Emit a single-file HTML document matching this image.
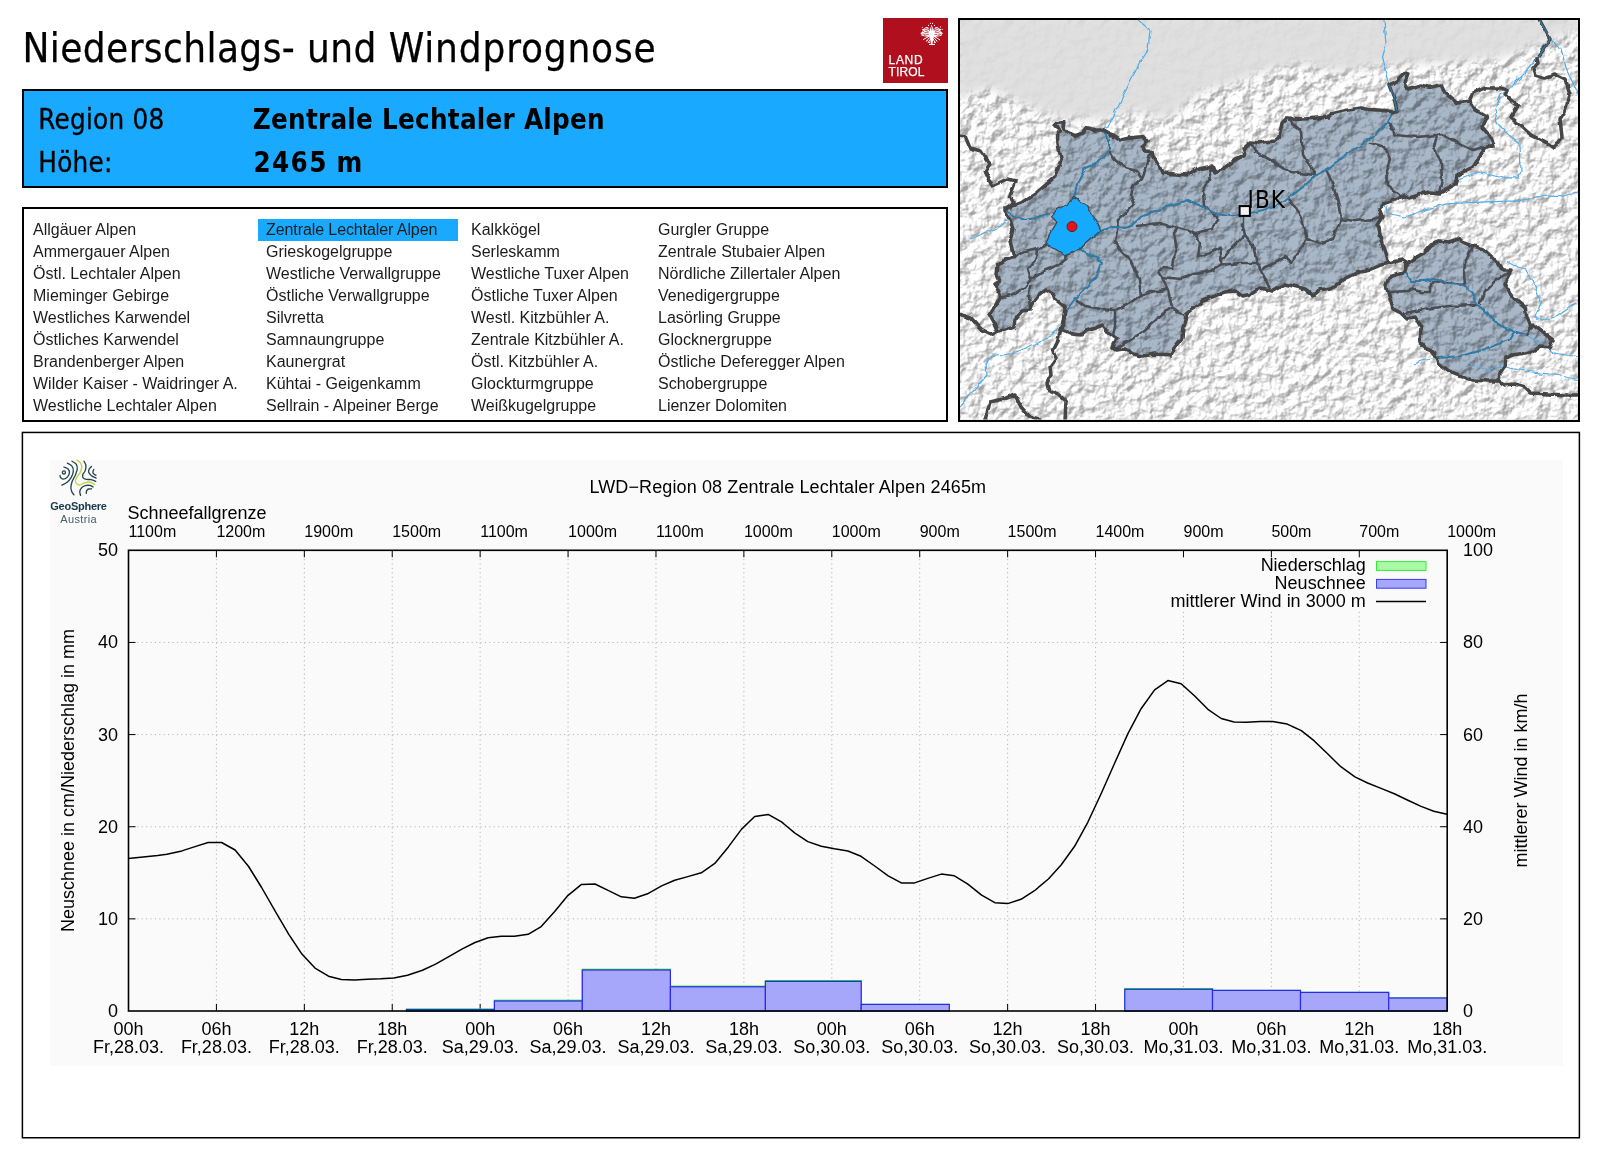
<!DOCTYPE html>
<html lang="de"><head><meta charset="utf-8"><title>Niederschlags- und Windprognose</title>
<style>
html,body{margin:0;padding:0;background:#fff}
body{width:1600px;height:1153px;position:relative;overflow:hidden;font-family:"Liberation Sans",sans-serif;color:#000}
#wrap{position:absolute;left:0;top:0;width:1600px;height:1153px;will-change:transform}
.title{position:absolute;left:22.5px;top:24px;font-family:"DejaVu Sans Condensed","Liberation Sans",sans-serif;font-size:40px;line-height:48px;letter-spacing:0.58px;white-space:nowrap;-webkit-text-stroke:0.25px #000}
.logo{position:absolute;left:883px;top:18px;width:65px;height:64.7px;background:#b0101e;color:#fff}
.logo span{position:absolute;left:5.6px;font-size:12px;line-height:12px;letter-spacing:0.3px;white-space:nowrap;-webkit-text-stroke:0.25px #fff}
.hdr{position:absolute;left:22px;top:89px;width:922px;height:95px;border:2px solid #000;background:#19aaff}
.hdr div{position:absolute;font-family:"DejaVu Sans Condensed","Liberation Sans",sans-serif;font-size:27.5px;line-height:34px;white-space:nowrap}
.hdr .b{font-weight:bold;letter-spacing:0.25px}
.hdr .n{letter-spacing:0.25px;-webkit-text-stroke:0.3px #000}
.listbox{position:absolute;left:22px;top:207px;width:922px;height:210.5px;border:2px solid #000;background:#fff}
.listbox .hl{position:absolute;left:233.6px;top:10.2px;width:200.4px;height:21.5px;background:#19aaff}
.col{position:absolute;top:10px;margin:0;padding:0;list-style:none;font-size:16px;line-height:22px;white-space:nowrap;color:#1c1c1c}
.col li{height:22px}
.map{position:absolute;left:958px;top:18px;width:618.3px;height:399.6px;border:2px solid #000;overflow:hidden;background:#e4e4e4}
.chartbox{position:absolute;left:21.7px;top:431.7px;width:1558.5px;height:706.8px;background:#fff}
</style></head><body>
<div id="wrap">
<div class="title"><span style="letter-spacing:0.42px">Niederschlags- und </span><span style="letter-spacing:0.85px">Windprognose</span></div>
<div class="logo"><svg width="35" height="32" viewBox="0 0 35 32" style="position:absolute;left:32px;top:0">
<g fill="#fff" stroke="none">
<path d="M16.3 13.2 L13.2 9.3 L10.8 8.9 L9.4 10.4 L7.0 11.2 L7.8 13.0 L5.9 15.2 L7.0 17.4 L9.2 18.2 L12.2 19.2 L15.4 18.6 Z"/>
<path d="M17.1 13.2 L20.2 9.3 L22.6 8.9 L24.0 10.4 L26.4 11.2 L25.6 13.0 L27.5 15.2 L26.4 17.4 L24.2 18.2 L21.2 19.2 L18.0 18.6 Z"/>
<path d="M16.6 6.8 L18.6 11.5 L19.3 15.0 L18.5 20.0 L17.4 26.0 L16.0 26.0 L15.0 20.0 L14.2 15.0 L14.9 11.5 Z"/>
<rect x="14" y="25.9" width="6" height="1.1"/>
<circle cx="15.4" cy="5.4" r="0.55"/>
<circle cx="17.5" cy="5.4" r="0.55"/>
<circle cx="13.5" cy="7.4" r="0.55"/>
<circle cx="19.5" cy="7.4" r="0.55"/>
<circle cx="12.0" cy="22.6" r="0.55"/>
<circle cx="14.4" cy="24.4" r="0.55"/>
<circle cx="19.4" cy="24.4" r="0.55"/>
<circle cx="21.6" cy="22.6" r="0.55"/>
<circle cx="7.3" cy="9.3" r="0.55"/>
<circle cx="27.3" cy="11.3" r="0.55"/>
<circle cx="25.6" cy="8.9" r="0.55"/>
</g>
<g stroke="#fff" stroke-width="1" fill="none" stroke-linecap="round">
<path d="M13.4 18.6 L8.4 21.5 M19.8 18.6 L24.7 21.8 M14.6 19.5 L11.5 23.2 M18.8 19.5 L22 23.2 M15.6 21 L13.2 24.6 M18 21 L20.4 24.6 M6 15.3 H9 M24.3 15.3 H27.2 M6.9 17.2 H9.5 M24 17.2 H26"/>
</g>
<g stroke="#b0101e" stroke-width="0.7" fill="none" stroke-linecap="round">
<path d="M9.8 12 L13 13.2 M10 14.4 L13.2 14.2 M11.6 16.4 H13.6 M23.6 12 L20.4 13.2 M23.4 14.4 L20.2 14.2 M21.8 16.4 H19.8 M11.5 10.6 L13.6 11.6 M22 10.6 L19.8 11.6 M16.7 9 V12 M8 12.6 L9 14 M7.6 16.2 H10.4 M25.6 12.6 L24.6 14 M26 16.2 H23.2 M9.4 17.6 L12 18.4 M24.2 17.6 L21.6 18.4 M13.8 10 L14.6 12.4 M19.8 10 L19 12.4 M10.4 10 L11 11 M23 10 L22.4 11"/>
</g></svg><span style="top:36.2px;letter-spacing:0.65px">LAND</span><span style="top:47.8px;letter-spacing:0.1px">TIROL</span></div>
<div class="hdr"><div class="n" style="left:14.3px;top:11px">Region 08</div><div class="n" style="left:14.3px;top:53.7px">Höhe:</div><div class="b" style="left:228.8px;top:11px">Zentrale Lechtaler Alpen</div><div class="b" style="left:229.6px;top:53.7px"><span style="letter-spacing:1.3px">2465</span> m</div></div>
<div class="listbox">
<div class="hl"></div>
<ul class="col" style="left:9px">
<li>Allgäuer Alpen</li>
<li>Ammergauer Alpen</li>
<li>Östl. Lechtaler Alpen</li>
<li>Mieminger Gebirge</li>
<li>Westliches Karwendel</li>
<li>Östliches Karwendel</li>
<li>Brandenberger Alpen</li>
<li>Wilder Kaiser - Waidringer A.</li>
<li>Westliche Lechtaler Alpen</li>
</ul>
<ul class="col" style="left:242px">
<li style="letter-spacing:-0.09px">Zentrale Lechtaler Alpen</li>
<li>Grieskogelgruppe</li>
<li>Westliche Verwallgruppe</li>
<li>Östliche Verwallgruppe</li>
<li>Silvretta</li>
<li>Samnaungruppe</li>
<li>Kaunergrat</li>
<li>Kühtai - Geigenkamm</li>
<li>Sellrain - Alpeiner Berge</li>
</ul>
<ul class="col" style="left:447px">
<li>Kalkkögel</li>
<li>Serleskamm</li>
<li>Westliche Tuxer Alpen</li>
<li>Östliche Tuxer Alpen</li>
<li>Westl. Kitzbühler A.</li>
<li>Zentrale Kitzbühler A.</li>
<li>Östl. Kitzbühler A.</li>
<li>Glockturmgruppe</li>
<li>Weißkugelgruppe</li>
</ul>
<ul class="col" style="left:634px">
<li>Gurgler Gruppe</li>
<li>Zentrale Stubaier Alpen</li>
<li>Nördliche Zillertaler Alpen</li>
<li>Venedigergruppe</li>
<li>Lasörling Gruppe</li>
<li>Glocknergruppe</li>
<li>Östliche Deferegger Alpen</li>
<li>Schobergruppe</li>
<li>Lienzer Dolomiten</li>
</ul>
</div>
<div class="map"><svg width="618.5" height="399.6" viewBox="960 20 618.5 399.6" style="display:block">
<defs>
<filter id="relief" x="0" y="0" width="100%" height="100%" color-interpolation-filters="sRGB">
<feTurbulence type="fractalNoise" baseFrequency="0.085 0.09" numOctaves="5" seed="7" result="n"/>
<feDiffuseLighting in="n" surfaceScale="5.5" diffuseConstant="1" lighting-color="#ffffff" result="l"><feDistantLight azimuth="225" elevation="45"/></feDiffuseLighting>
<feComponentTransfer in="l"><feFuncR type="linear" slope="0.43" intercept="0.64"/><feFuncG type="linear" slope="0.43" intercept="0.64"/><feFuncB type="linear" slope="0.43" intercept="0.64"/></feComponentTransfer>
</filter>
<filter id="wig" filterUnits="userSpaceOnUse" x="950" y="10" width="640" height="420"><feTurbulence type="fractalNoise" baseFrequency="0.11" numOctaves="2" seed="4" result="t"/><feDisplacementMap in="SourceGraphic" in2="t" scale="4.5" xChannelSelector="R" yChannelSelector="G"/></filter>
<filter id="soft" x="-10%" y="-10%" width="120%" height="140%"><feGaussianBlur stdDeviation="5"/></filter>
<clipPath id="mc"><rect x="960" y="20" width="618.5" height="399.6"/></clipPath>
</defs>
<g clip-path="url(#mc)">
<rect x="955" y="15" width="630" height="410" fill="#fff" filter="url(#relief)"/>
<g filter="url(#soft)"><path d="M955 15 L955 100 L990 88 L1030 108 L1060 118 L1100 120 L1135 112 L1170 120 L1200 92 L1230 85 L1262 72 L1300 64 L1340 72 L1380 66 L1420 64 L1460 62 L1500 58 L1535 46 L1585 28 L1585 15 Z" fill="#dedede" opacity="0.93"/></g>
<g filter="url(#wig)" style="mix-blend-mode:multiply">
<path d="M1005 211 L1007.4 208 L1021 203 L1035 194 L1049 182 L1055 177 L1059 166 L1061 158 L1058 144 L1057.4 133 L1060 130 L1055 126 L1056 123.6 L1064 122.4 L1063 127 L1067 132 L1075 135.6 L1083 133 L1087 127.6 L1095 130 L1102 130 L1109 134 L1115 136 L1121 140 L1129 138 L1143 136.4 L1148 142 L1142 147 L1144 151 L1152 151.6 L1153 156 L1161 168 L1163 173 L1175 174 L1187 175 L1195 170 L1212 166 L1215 173 L1223 169 L1235 160 L1245 155 L1243 149 L1251 142 L1259 143 L1267 141.6 L1275 141 L1279 137 L1282 123 L1287 118 L1305 119 L1329 117 L1331 114 L1345 110.6 L1361 108 L1369 109.4 L1385 110.6 L1393 112 L1397 110.6 L1395 101 L1389 85 L1397 81 L1405 73 L1408 74 L1405 83 L1408 89 L1421 85 L1429 87.4 L1441 85 L1445 93 L1457 103 L1469 101 L1475 109 L1487 116 L1482 127 L1489 135 L1494 145 L1483 148 L1481 155 L1473 167 L1457 175 L1455 185 L1441 193 L1429 192 L1409 198 L1402 195 L1397 199 L1385 203 L1379 209 L1382 217 L1377 225 L1379 227 L1381 241 L1385 253 L1388 263 L1381 265 L1369 270 L1357 273 L1345 279 L1331 288 L1319 290 L1313 295 L1305 289 L1297 287 L1285 284 L1273 291 L1271 291 L1261 288 L1251 294 L1243 296 L1235 291 L1225 292 L1215 296 L1203 300 L1198 305 L1192 309 L1187 313 L1183 327 L1182 338 L1175 347 L1171 355 L1155 354 L1143 356 L1133 354 L1125 349 L1117 350 L1113 347 L1117 339 L1109 333 L1103 325 L1095 328 L1086 331 L1081 335 L1072 334 L1063 330 L1064 319 L1065 309 L1064 306 L1055 299 L1053 294 L1046 290 L1039 295 L1032 304 L1030 310 L1023 311 L1015 320 L1014 327 L1006 330 L998 331 L995 324 L990 315 L994 309 L1000 298 L1000 294 L995 284 L1000 281 L997 275 L998 265 L1005 260 L1014 257 L1010 241 L1013 229 L1010 220 Z" fill="#a9b8c8"/>
<path d="M1408 263 L1417 257 L1425 252 L1431 245 L1441 241 L1449 242 L1457 239 L1465 243 L1473 246 L1483 249 L1491 256 L1498 263 L1502 270 L1512 270 L1505 283 L1511 295 L1525 307 L1527 317 L1531 327 L1533 325 L1545 334 L1553 340 L1549 348 L1541 347 L1533 351 L1525 353 L1513 355 L1505 358 L1504 367 L1500 373 L1499 381 L1487 381 L1473 380 L1459 375 L1449 371 L1439 363 L1433 351 L1425 348 L1420 343 L1421 327 L1415 317 L1407 319 L1401 313 L1393 309 L1390 299 L1386 284 L1389 277 L1403 273 L1405 267 Z" fill="#a9b8c8"/>
</g>
<g filter="url(#wig)">
<path d="M1138 20 L1150 30 L1148 50 L1138 66 L1126 90 L1118 106 L1115 112 L1111 120 L1108 127 L1102 130 M1384 20 L1386 45 L1382 59 L1385 71 L1389 85 M1550 39 L1561 49 L1567 71 L1577 91 L1580 100 M1537 58 L1525 73 L1513 85 L1501 95 L1495 109 L1497 123 L1509 135 L1520 145 L1521 171 L1519 178 L1503 178 L1481 172 L1469 175 L1453 181 M1580 191 L1565 196 L1545 195 L1519 201 L1485 202 L1445 204 L1425 210 L1405 217 L1387 213 L1385 203 M960 407 L975 389 L987 375 L986 363 L991 357 L1015 353 L1035 345 L1051 335 L1062 325 M971 239 L987 232 L1001 226 L1008 219 M1527 335 L1545 347 L1553 353 L1580 357 M1437 358 L1421 361 L1413 365 M1470 364 L1489 369 L1505 367 L1525 371 L1555 375 L1580 380 M1506 261 L1513 265 L1525 269 L1533 281 L1541 303 L1535 317 L1541 321 L1555 317 L1569 307 L1580 299" fill="none" stroke="#52aee8" stroke-width="1.25" stroke-linejoin="round"/>
<path d="M1014 257 L1025 252 L1037 249 L1046 245 M1037 249 L1036 259 L1028 269 L1031 279 M1001 298 L1015 293 L1025 287 L1031 279 L1041 272 L1059 265 L1065 260 L1066 254 M1030 310 L1029 295 L1030 286 M1118 226 L1115 241 L1121 251 L1133 263 L1139 281 L1141 295 L1127 305 L1115 310 L1101 309 L1085 306 L1077 300 M1115 310 L1115 327 L1113 335 M1141 295 L1155 291 L1168 290 L1172 307 L1183 315 M1172 307 L1155 321 L1141 333 L1125 343 L1117 348 M1168 290 L1162 277 L1159 271 L1163 267 L1172 268 L1173 260 L1177 251 L1174 233 L1178 228 M1137 226 L1147 225 L1163 224 L1178 228 L1195 233 L1200 243 L1198 257 L1203 256 L1220 248 L1222 260 L1222 265 M1162 277 L1181 279 L1195 274 L1211 271 L1222 265 L1239 263 L1255 263 M1222 260 L1231 249 L1245 235 M1243 215 L1243 227 L1245 235 L1253 245 L1257 263 L1263 275 L1267 285 L1271 291 M1263 269 L1265 267 L1275 263 L1285 257 L1291 263 L1299 251 L1308 239 L1305 231 L1301 215 L1289 199 M1195 233 L1211 229 L1217 221 L1217 216 L1204 206 M1110 152 L1115 160 L1125 168 L1137 171 L1142 178 L1147 166 L1150 154 M1142 178 L1133 186 L1131 196 L1134 204 L1125 214 L1118 220 L1117 227 M1212 167 L1209 180 L1203 192 L1204 206 M1287 118 L1301 131 L1303 155 L1315 175 M1251 142 L1255 152 L1265 157 L1283 167 L1291 172 L1315 175 M1389 123 L1395 135 L1417 137 L1437 135 L1441 134 L1457 143 L1473 151 L1482 148 M1437 135 L1434 147 L1441 163 L1442 181 L1439 193 M1371 143 L1385 147 L1390 159 L1386 171 L1387 185 L1397 193 L1405 198 M1327 171 L1333 185 L1339 207 L1341 219 L1333 239 L1321 243 L1308 239 M1341 219 L1355 221 L1373 219 L1381 217 M1473 246 L1465 261 L1464 275 L1465 284 M1512 270 L1495 281 L1485 291 L1480 303 M1389 292 L1409 291 L1411 289 L1421 292 L1431 292 L1431 283 L1441 281 L1445 283 L1465 285 M1405 313 L1425 309 L1449 306 L1477 305 M1531 327 L1527 335" fill="none" stroke="#4a4e52" stroke-width="2.6" stroke-linejoin="round" stroke-linecap="round"/>
<path d="M1389 85 L1395 101 L1397 110.6 L1393 112 L1387 123 L1373 137 L1365 143 L1345 155 L1325 171 L1315 176 L1303 187 L1285 201 L1275 207 L1243 215 L1231 215 L1215 213 L1203 207 L1188 200 L1175 204 L1155 211 L1141 217 L1131 226 L1125 228 L1113 227 L1103 230 L1083 245 L1081 250 L1087 254 L1098 257 L1101 263 L1097 273 L1087 287 L1075 299 L1064 313 M1102 130 L1109 140 L1109 150 L1103 158 L1095 164 L1085 168 L1079 180 L1075 194 L1074 198 M1007 211 L1015 216 L1025 220 L1035 218 L1049 213 M1406 272 L1411 281 L1425 281 L1433 279 L1443 281 L1447 284 L1465 285 L1471 293 L1477 304 L1491 317 L1501 326 L1513 331 L1527 335 M1514 332 L1509 340 L1485 349 L1461 356 L1437 358 M1539 19 L1550 39 L1544 49 L1537 58" fill="none" stroke="#2f7aa5" stroke-width="2" stroke-linejoin="round"/>
<path d="M1074 197.6 L1086 205 L1093 216 L1101 230 L1083 246 L1080 249 L1064 255 L1046 244 L1049 236 L1057 222 L1051 216 L1055 211 L1067 204 Z" fill="#19aaff" stroke="#3a4a56" stroke-width="1.4" stroke-linejoin="round"/>
<path d="M1005 211 L1007.4 208 L1021 203 L1035 194 L1049 182 L1055 177 L1059 166 L1061 158 L1058 144 L1057.4 133 L1060 130 L1055 126 L1056 123.6 L1064 122.4 L1063 127 L1067 132 L1075 135.6 L1083 133 L1087 127.6 L1095 130 L1102 130 L1109 134 L1115 136 L1121 140 L1129 138 L1143 136.4 L1148 142 L1142 147 L1144 151 L1152 151.6 L1153 156 L1161 168 L1163 173 L1175 174 L1187 175 L1195 170 L1212 166 L1215 173 L1223 169 L1235 160 L1245 155 L1243 149 L1251 142 L1259 143 L1267 141.6 L1275 141 L1279 137 L1282 123 L1287 118 L1305 119 L1329 117 L1331 114 L1345 110.6 L1361 108 L1369 109.4 L1385 110.6 L1393 112 L1397 110.6 L1395 101 L1389 85 L1397 81 L1405 73 L1408 74 L1405 83 L1408 89 L1421 85 L1429 87.4 L1441 85 L1445 93 L1457 103 L1469 101 L1475 109 L1487 116 L1482 127 L1489 135 L1494 145 L1483 148 L1481 155 L1473 167 L1457 175 L1455 185 L1441 193 L1429 192 L1409 198 L1402 195 L1397 199 L1385 203 L1379 209 L1382 217 L1377 225 L1379 227 L1381 241 L1385 253 L1388 263 L1381 265 L1369 270 L1357 273 L1345 279 L1331 288 L1319 290 L1313 295 L1305 289 L1297 287 L1285 284 L1273 291 L1271 291 L1261 288 L1251 294 L1243 296 L1235 291 L1225 292 L1215 296 L1203 300 L1198 305 L1192 309 L1187 313 L1183 327 L1182 338 L1175 347 L1171 355 L1155 354 L1143 356 L1133 354 L1125 349 L1117 350 L1113 347 L1117 339 L1109 333 L1103 325 L1095 328 L1086 331 L1081 335 L1072 334 L1063 330 L1064 319 L1065 309 L1064 306 L1055 299 L1053 294 L1046 290 L1039 295 L1032 304 L1030 310 L1023 311 L1015 320 L1014 327 L1006 330 L998 331 L995 324 L990 315 L994 309 L1000 298 L1000 294 L995 284 L1000 281 L997 275 L998 265 L1005 260 L1014 257 L1010 241 L1013 229 L1010 220 Z M1408 263 L1417 257 L1425 252 L1431 245 L1441 241 L1449 242 L1457 239 L1465 243 L1473 246 L1483 249 L1491 256 L1498 263 L1502 270 L1512 270 L1505 283 L1511 295 L1525 307 L1527 317 L1531 327 L1533 325 L1545 334 L1553 340 L1549 348 L1541 347 L1533 351 L1525 353 L1513 355 L1505 358 L1504 367 L1500 373 L1499 381 L1487 381 L1473 380 L1459 375 L1449 371 L1439 363 L1433 351 L1425 348 L1420 343 L1421 327 L1415 317 L1407 319 L1401 313 L1393 309 L1390 299 L1386 284 L1389 277 L1403 273 L1405 267 Z M959 135 L965 136 L970 148 L981 151 L990 164 L985 171 L992 186 L1007 179 L1016 181 L1010 196 L1014 202 L1005 208 L1005 211 M959 314 L971 318 L981 329 L991 334 L998 331 M1065 309 L1062 327 L1057 343 L1053 351 L1056 359 L1050 367 L1051 375 L1047 383 L1049 391 L1059 395 L1066 401 L1065 420 M985 420 L990 402 L1007 398 L1015 395 L1021 407 L1029 416 L1041 420 M1539 19 L1550 39 L1544 49 L1537 58 L1538 63 L1533 69 L1535 75 L1545 78 L1555 74 L1565 79 L1570 95 L1565 111 L1560 119 L1562 137 L1554 148 L1549 144 L1531 135 L1522 127 L1511 117 L1518 106 L1505 95 L1507 91 L1501 88 L1485 88 L1473 93 L1469 101 M1388 263 L1393 262 L1403 260 L1408 263 M1499 381 L1505 385 L1515 384 L1525 387 L1531 393 L1549 394 L1565 395 L1580 395" fill="none" stroke="#444444" stroke-width="3.5" stroke-linejoin="round" stroke-linecap="round"/>
<path d="M1539 19 L1550 39 L1544 49 L1537 58 M1389 85 L1395 101 L1397 110.6" fill="none" stroke="#2f7aa5" stroke-width="1.4" stroke-linejoin="round"/>
</g>
<circle cx="1072" cy="226.6" r="5" fill="#e3141c" stroke="#5a2020" stroke-width="1"/>
<rect x="1239.6" y="206.1" width="10.3" height="9.8" fill="#f4f4f4" stroke="#000" stroke-width="2"/>
<text x="1247.6" y="208" font-family="'DejaVu Sans Condensed','Liberation Sans',sans-serif" font-size="24" letter-spacing="1.0" fill="#000">IBK</text>
</g></svg></div>
<div class="chartbox"></div>
<svg class="chart" width="1600" height="1153" viewBox="0 0 1600 1153" style="position:absolute;left:0;top:0">
<rect x="22.4" y="432.45" width="1557" height="705.3" fill="none" stroke="#000" stroke-width="1.5"/>
<rect x="50" y="460" width="1513" height="605.7" fill="#fafafa"/>
<path d="M216.41 550.3 V1011.0 M304.33 550.3 V1011.0 M392.24 550.3 V1011.0 M480.15 550.3 V1011.0 M568.07 550.3 V1011.0 M655.98 550.3 V1011.0 M743.89 550.3 V1011.0 M831.81 550.3 V1011.0 M919.72 550.3 V1011.0 M1007.63 550.3 V1011.0 M1095.55 550.3 V1011.0 M1183.46 550.3 V1011.0 M1271.37 550.3 V1011.0 M1359.29 550.3 V1011.0 M128.5 918.86 H1447.2 M128.5 826.72 H1447.2 M128.5 734.58 H1447.2 M128.5 642.44 H1447.2" stroke="#adadad" stroke-width="0.95" stroke-dasharray="1.1 3.3" fill="none"/>
<rect x="1160" y="551.2" width="286.3" height="58.8" fill="#fafafa"/>
<path d="M216.41 1011.0 v-7 M216.41 550.3 v7 M304.33 1011.0 v-7 M304.33 550.3 v7 M392.24 1011.0 v-7 M392.24 550.3 v7 M480.15 1011.0 v-7 M480.15 550.3 v7 M568.07 1011.0 v-7 M568.07 550.3 v7 M655.98 1011.0 v-7 M655.98 550.3 v7 M743.89 1011.0 v-7 M743.89 550.3 v7 M831.81 1011.0 v-7 M831.81 550.3 v7 M919.72 1011.0 v-7 M919.72 550.3 v7 M1007.63 1011.0 v-7 M1007.63 550.3 v7 M1095.55 1011.0 v-7 M1095.55 550.3 v7 M1183.46 1011.0 v-7 M1183.46 550.3 v7 M1271.37 1011.0 v-7 M1271.37 550.3 v7 M1359.29 1011.0 v-7 M1359.29 550.3 v7 M128.5 918.86 h7 M1447.2 918.86 h-7 M128.5 826.72 h7 M1447.2 826.72 h-7 M128.5 734.58 h7 M1447.2 734.58 h-7 M128.5 642.44 h7 M1447.2 642.44 h-7" stroke="#000" stroke-width="1" fill="none"/>
<rect x="406.5" y="1009.0" width="87.9" height="2.0" fill="#a9f9a9" stroke="#1fe81f" stroke-width="1.2"/>
<rect x="494.4" y="1000.3" width="87.9" height="10.7" fill="#a9f9a9" stroke="#1fe81f" stroke-width="1.2"/>
<rect x="582.3" y="969.3" width="88.1" height="41.7" fill="#a9f9a9" stroke="#1fe81f" stroke-width="1.2"/>
<rect x="670.4" y="986.2" width="95.0" height="24.8" fill="#a9f9a9" stroke="#1fe81f" stroke-width="1.2"/>
<rect x="765.4" y="980.6" width="95.8" height="30.4" fill="#a9f9a9" stroke="#1fe81f" stroke-width="1.2"/>
<rect x="861.2" y="1004.4" width="88.1" height="6.6" fill="#a9f9a9" stroke="#1fe81f" stroke-width="1.2"/>
<rect x="1124.8" y="988.6" width="87.7" height="22.4" fill="#a9f9a9" stroke="#1fe81f" stroke-width="1.2"/>
<rect x="1212.5" y="990.4" width="88.0" height="20.6" fill="#a9f9a9" stroke="#1fe81f" stroke-width="1.2"/>
<rect x="1300.5" y="992.4" width="88.2" height="18.6" fill="#a9f9a9" stroke="#1fe81f" stroke-width="1.2"/>
<rect x="1388.7" y="998.0" width="58.5" height="13.0" fill="#a9f9a9" stroke="#1fe81f" stroke-width="1.2"/>
<rect x="406.5" y="1009.6" width="87.9" height="1.4" fill="#a6a6fb" stroke="#2a2aee" stroke-width="1.2"/>
<rect x="494.4" y="1001.0" width="87.9" height="10.0" fill="#a6a6fb" stroke="#2a2aee" stroke-width="1.2"/>
<rect x="582.3" y="970.0" width="88.1" height="41.0" fill="#a6a6fb" stroke="#2a2aee" stroke-width="1.2"/>
<rect x="670.4" y="986.8" width="95.0" height="24.2" fill="#a6a6fb" stroke="#2a2aee" stroke-width="1.2"/>
<rect x="765.4" y="981.4" width="95.8" height="29.6" fill="#a6a6fb" stroke="#2a2aee" stroke-width="1.2"/>
<rect x="861.2" y="1004.4" width="88.1" height="6.6" fill="#a6a6fb" stroke="#2a2aee" stroke-width="1.2"/>
<rect x="1124.8" y="989.3" width="87.7" height="21.7" fill="#a6a6fb" stroke="#2a2aee" stroke-width="1.2"/>
<rect x="1212.5" y="990.4" width="88.0" height="20.6" fill="#a6a6fb" stroke="#2a2aee" stroke-width="1.2"/>
<rect x="1300.5" y="992.4" width="88.2" height="18.6" fill="#a6a6fb" stroke="#2a2aee" stroke-width="1.2"/>
<rect x="1388.7" y="998.0" width="58.5" height="13.0" fill="#a6a6fb" stroke="#2a2aee" stroke-width="1.2"/>
<path d="M128.4 858.4 L143.1 857.1 L157.7 855.6 L166.9 854.3 L181.9 850.9 L195.0 846.6 L208.1 842.5 L221.6 842.5 L235.1 850.0 L248.6 866.5 L261.6 887.5 L275.6 911.9 L288.8 934.4 L301.9 954.1 L315.0 968.1 L328.5 976.2 L341.3 979.4 L354.4 979.9 L367.5 979.2 L380.6 978.8 L393.8 977.9 L407.5 975.3 L422.5 970.3 L435.6 964.1 L448.8 956.6 L461.9 949.1 L475.0 942.5 L488.1 937.8 L501.3 936.3 L514.4 936.3 L528.1 934.3 L541.2 926.6 L554.7 911.6 L567.8 895.6 L581.5 884.4 L595.0 884.0 L608.1 890.4 L621.3 896.8 L634.4 898.3 L647.5 893.8 L661.6 885.9 L674.7 880.3 L686.9 876.9 L701.3 872.8 L714.8 863.4 L728.4 846.9 L741.6 829.1 L754.7 816.5 L768.2 814.4 L781.5 821.9 L794.6 832.8 L807.8 841.6 L821.3 846.3 L834.4 848.8 L847.9 851.0 L861.0 856.3 L874.7 866.0 L888.2 875.9 L901.3 882.9 L914.6 882.9 L927.8 878.4 L941.3 874.1 L954.4 875.8 L967.5 883.8 L981.6 895.1 L994.8 902.7 L1007.7 903.6 L1021.0 899.3 L1034.5 890.7 L1048.4 879.0 L1061.3 864.8 L1074.6 846.3 L1087.8 822.3 L1101.0 794.0 L1114.6 763.2 L1127.8 733.9 L1141.1 708.7 L1154.6 689.9 L1167.9 680.6 L1181.1 683.7 L1194.7 696.0 L1207.9 709.3 L1221.2 718.5 L1234.1 721.9 L1246.4 722.2 L1260.3 721.6 L1272.6 721.6 L1287.2 724.1 L1301.3 730.6 L1314.0 740.7 L1328.1 754.3 L1340.8 766.7 L1354.9 776.8 L1367.6 783.0 L1381.7 788.6 L1394.3 793.7 L1408.4 800.5 L1421.1 806.4 L1433.8 811.2 L1447.0 814.3" stroke="#000" stroke-width="1.5" fill="none" stroke-linejoin="round"/>
<rect x="128.5" y="550.3" width="1318.7" height="460.7" fill="none" stroke="#000" stroke-width="1.6"/>
<g font-family="'Liberation Sans', sans-serif" fill="#000">
<text x="787.8" y="493.1" font-size="18" letter-spacing="0.12" text-anchor="middle">LWD−Region 08 Zentrale Lechtaler Alpen 2465m</text>
<text x="127.5" y="519" font-size="18">Schneefallgrenze</text>
<text x="128.5" y="536.8" font-size="16">1100m</text>
<text x="216.4" y="536.8" font-size="16">1200m</text>
<text x="304.3" y="536.8" font-size="16">1900m</text>
<text x="392.2" y="536.8" font-size="16">1500m</text>
<text x="480.2" y="536.8" font-size="16">1100m</text>
<text x="568.1" y="536.8" font-size="16">1000m</text>
<text x="656.0" y="536.8" font-size="16">1100m</text>
<text x="743.9" y="536.8" font-size="16">1000m</text>
<text x="831.8" y="536.8" font-size="16">1000m</text>
<text x="919.7" y="536.8" font-size="16">900m</text>
<text x="1007.6" y="536.8" font-size="16">1500m</text>
<text x="1095.5" y="536.8" font-size="16">1400m</text>
<text x="1183.5" y="536.8" font-size="16">900m</text>
<text x="1271.4" y="536.8" font-size="16">500m</text>
<text x="1359.3" y="536.8" font-size="16">700m</text>
<text x="1447.2" y="536.8" font-size="16">1000m</text>
<text x="118" y="1016.9" font-size="18" text-anchor="end">0</text>
<text x="1463" y="1016.9" font-size="18">0</text>
<text x="118" y="924.8" font-size="18" text-anchor="end">10</text>
<text x="1463" y="924.8" font-size="18">20</text>
<text x="118" y="832.6" font-size="18" text-anchor="end">20</text>
<text x="1463" y="832.6" font-size="18">40</text>
<text x="118" y="740.5" font-size="18" text-anchor="end">30</text>
<text x="1463" y="740.5" font-size="18">60</text>
<text x="118" y="648.3" font-size="18" text-anchor="end">40</text>
<text x="1463" y="648.3" font-size="18">80</text>
<text x="118" y="556.2" font-size="18" text-anchor="end">50</text>
<text x="1463" y="556.2" font-size="18">100</text>
<text x="128.5" y="1035" font-size="18" text-anchor="middle">00h</text>
<text x="128.5" y="1053" font-size="18" text-anchor="middle">Fr,28.03.</text>
<text x="216.4" y="1035" font-size="18" text-anchor="middle">06h</text>
<text x="216.4" y="1053" font-size="18" text-anchor="middle">Fr,28.03.</text>
<text x="304.3" y="1035" font-size="18" text-anchor="middle">12h</text>
<text x="304.3" y="1053" font-size="18" text-anchor="middle">Fr,28.03.</text>
<text x="392.2" y="1035" font-size="18" text-anchor="middle">18h</text>
<text x="392.2" y="1053" font-size="18" text-anchor="middle">Fr,28.03.</text>
<text x="480.2" y="1035" font-size="18" text-anchor="middle">00h</text>
<text x="480.2" y="1053" font-size="18" text-anchor="middle">Sa,29.03.</text>
<text x="568.1" y="1035" font-size="18" text-anchor="middle">06h</text>
<text x="568.1" y="1053" font-size="18" text-anchor="middle">Sa,29.03.</text>
<text x="656.0" y="1035" font-size="18" text-anchor="middle">12h</text>
<text x="656.0" y="1053" font-size="18" text-anchor="middle">Sa,29.03.</text>
<text x="743.9" y="1035" font-size="18" text-anchor="middle">18h</text>
<text x="743.9" y="1053" font-size="18" text-anchor="middle">Sa,29.03.</text>
<text x="831.8" y="1035" font-size="18" text-anchor="middle">00h</text>
<text x="831.8" y="1053" font-size="18" text-anchor="middle">So,30.03.</text>
<text x="919.7" y="1035" font-size="18" text-anchor="middle">06h</text>
<text x="919.7" y="1053" font-size="18" text-anchor="middle">So,30.03.</text>
<text x="1007.6" y="1035" font-size="18" text-anchor="middle">12h</text>
<text x="1007.6" y="1053" font-size="18" text-anchor="middle">So,30.03.</text>
<text x="1095.5" y="1035" font-size="18" text-anchor="middle">18h</text>
<text x="1095.5" y="1053" font-size="18" text-anchor="middle">So,30.03.</text>
<text x="1183.5" y="1035" font-size="18" text-anchor="middle">00h</text>
<text x="1183.5" y="1053" font-size="18" text-anchor="middle">Mo,31.03.</text>
<text x="1271.4" y="1035" font-size="18" text-anchor="middle">06h</text>
<text x="1271.4" y="1053" font-size="18" text-anchor="middle">Mo,31.03.</text>
<text x="1359.3" y="1035" font-size="18" text-anchor="middle">12h</text>
<text x="1359.3" y="1053" font-size="18" text-anchor="middle">Mo,31.03.</text>
<text x="1447.2" y="1035" font-size="18" text-anchor="middle">18h</text>
<text x="1447.2" y="1053" font-size="18" text-anchor="middle">Mo,31.03.</text>
<text x="1365.7" y="571" font-size="18" text-anchor="end">Niederschlag</text>
<text x="1365.7" y="589" font-size="18" text-anchor="end">Neuschnee</text>
<text x="1365.7" y="607" font-size="18" text-anchor="end">mittlerer Wind in 3000 m</text>
<text transform="translate(74,780.5) rotate(-90)" font-size="18" text-anchor="middle">Neuschnee in cm/Niederschlag in mm</text>
<text transform="translate(1527,780.5) rotate(-90)" font-size="18" text-anchor="middle">mittlerer Wind in km/h</text>
</g>
<rect x="1376.5" y="561.6" width="49.5" height="8.8" fill="#a9f9a9" stroke="#2df02d" stroke-width="1"/>
<rect x="1376.5" y="579.4" width="49.5" height="8.8" fill="#a6a6fb" stroke="#3a3af2" stroke-width="1"/>
<path d="M1376 601.5 H1426" stroke="#000" stroke-width="1.5"/>
<g fill="none" stroke-linecap="round" stroke-linejoin="round" stroke-width="1.35">
<path stroke="#26464f" d="M63.9 467.0 C64.6 467.4 67.2 468.0 68.1 469.0 C69.0 470.0 69.5 471.5 69.4 472.9 C69.3 474.2 68.4 476.1 67.4 477.1 C66.5 478.2 64.7 479.0 63.5 479.1 C62.4 479.1 61.2 478.0 60.6 477.4 C60.0 476.8 60.2 475.8 60.1 475.5 M67.4 463.1 C68.2 463.6 71.0 464.7 72.0 466.1 C73.0 467.4 73.4 469.4 73.3 471.3 C73.2 473.1 72.4 475.3 71.4 477.1 C70.3 479.0 68.7 481.0 67.1 482.3 C65.5 483.6 62.8 484.6 61.9 485.1 M72.0 461.2 C72.7 461.7 75.4 462.8 76.2 464.1 C77.1 465.5 77.4 467.5 77.2 469.3 C77.0 471.2 76.1 473.2 75.3 475.2 C74.4 477.1 73.1 479.1 72.3 481.0 C71.6 483.0 71.0 485.1 70.9 486.9 C70.8 488.6 71.2 490.1 71.7 491.4 C72.2 492.8 73.6 494.3 74.0 494.8 M84.0 461.2 C84.3 461.9 85.7 463.8 85.9 465.4 C86.1 467.0 85.7 469.0 85.2 470.6 C84.7 472.2 83.0 473.6 82.7 474.8 C82.4 476.1 82.7 477.3 83.4 478.1 C84.0 478.9 85.3 479.1 86.6 479.4 C87.9 479.6 89.7 479.3 91.2 479.6 C92.7 479.9 95.0 481.1 95.7 481.4 M91.5 466.4 C91.1 466.8 89.7 468.0 89.2 469.0 C88.8 470.0 88.3 471.1 88.7 472.2 C89.1 473.4 90.3 474.7 91.5 475.7 C92.7 476.7 95.3 477.7 96.1 478.1 M93.8 469.4 C93.6 469.9 92.8 471.3 92.8 472.0 C92.8 472.8 93.4 473.5 93.9 474.0 C94.4 474.5 95.6 475.1 95.9 475.3 M80.5 495.3 C80.4 494.7 79.6 492.7 79.8 491.4 C80.0 490.2 80.5 488.8 81.4 487.9 C82.4 486.9 83.9 486.0 85.3 485.6 C86.7 485.2 88.6 485.2 89.9 485.4 C91.2 485.7 92.6 486.6 93.1 486.9 M86.3 493.4 C86.4 492.9 86.3 491.4 86.6 490.7 C87.0 489.9 87.8 489.3 88.6 489.0 C89.4 488.7 91.0 488.9 91.5 488.8"/>
<circle cx="63.9" cy="472.4" r="1.55" stroke="#26464f"/>
<path stroke="#c3d545" d="M76.9 460.2 C77.5 460.6 79.6 461.6 80.5 462.8 C81.3 464.0 81.8 465.7 81.8 467.4 C81.7 469.0 80.9 470.9 80.1 472.6 C79.3 474.2 77.7 475.7 76.9 477.1 C76.1 478.5 75.4 479.9 75.4 481.0 C75.4 482.2 76.1 483.3 76.9 484.0 C77.7 484.6 78.9 485.1 80.1 484.9 C81.3 484.8 82.5 483.5 84.0 483.0 C85.6 482.5 87.5 481.8 89.2 482.0 C91.0 482.2 93.7 483.9 94.6 484.3"/>
</g>
<text x="78.5" y="510.3" font-family="'Liberation Sans',sans-serif" font-weight="bold" font-size="11" letter-spacing="-0.25" text-anchor="middle" fill="#173a47">GeoSphere</text>
<text x="78.7" y="522.7" font-family="'Liberation Sans',sans-serif" font-size="11" letter-spacing="0.35" text-anchor="middle" fill="#46606b">Austria</text>
</svg>
</div>
</body></html>
